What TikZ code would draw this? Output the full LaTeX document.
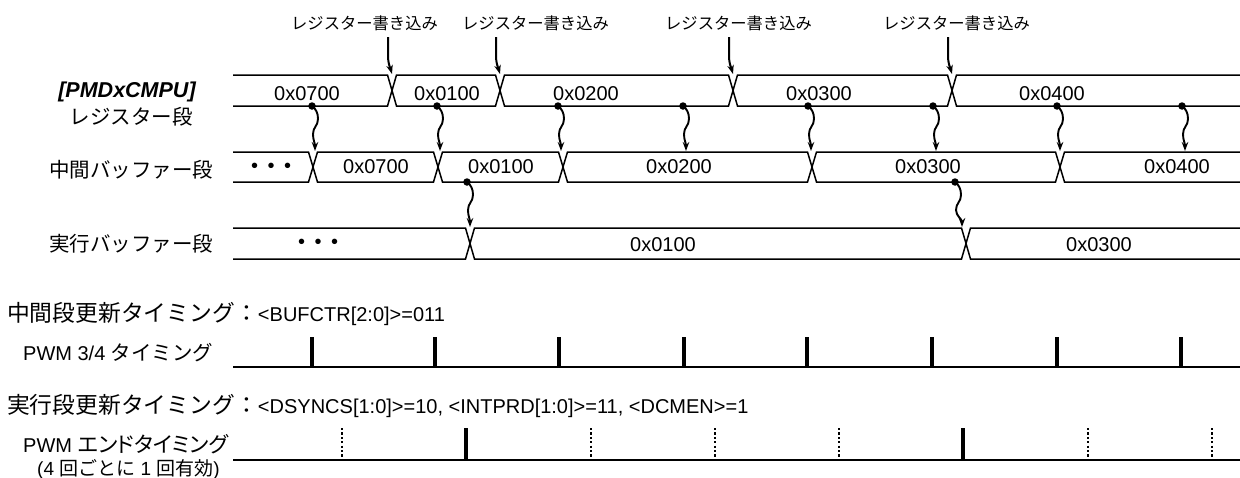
\documentclass[tikz,border=0pt]{standalone}
\usepackage{fontspec}
\setmainfont{Liberation Sans}
\newfontfamily\jp{Noto Sans CJK JP}
\newfontfamily\jpp[RawFeature=+palt]{Noto Sans CJK JP}
\usetikzlibrary{arrows.meta}
\newcommand{\fs}[1]{\fontsize{#1}{#1}\selectfont}
\begin{document}
\begin{tikzpicture}[x=1pt,y=-1pt,
  rowline/.style={line width=1.5pt, line join=miter},
  val/.style={inner sep=0pt, anchor=base, font=\fs{20}},
  jlab/.style={inner sep=0pt, font=\jp\fs{20.5}},
  toplbl/.style={inner sep=0pt, font=\jp\fs{16.3}},
  txt/.style={inner sep=0pt, anchor=west},
  dotn/.style={circle, fill=black, inner sep=0pt, minimum size=7.5pt},
  warr/.style={line width=1.9pt, -{Stealth[length=9pt,width=6.5pt]}},
  wrarr/.style={line width=2pt, -{Stealth[length=9pt,width=6.5pt]}},
  tline/.style={line width=2pt},
  solidtick/.style={line width=4pt},
  dottick/.style={line width=2.2pt, dash pattern=on 2.2pt off 2.2pt},
]
\useasboundingbox (0,0) rectangle (1240,477);

% ---- row labels
\node[inner sep=0pt, anchor=base, font=\bfseries\itshape\fs{21.5}] (regname) at (127,97) {[PMDxCMPU]};
\node[jlab] (reglab) at (131,116.5) {レジスター段};
\node[jlab] (midlab) at (131,170) {中間バッファー段};
\node[jlab] (exelab) at (131,243.5) {実行バッファー段};

% ---- register row
\draw[rowline] (233,75) -- (387.5,75) -- (396.5,106) -- (495.5,106) -- (504.5,75) -- (728.5,75) -- (737.5,106) -- (947.5,106) -- (956.5,75) -- (1240,75);
\draw[rowline] (233,106) -- (387.5,106) -- (396.5,75) -- (495.5,75) -- (504.5,106) -- (728.5,106) -- (737.5,75) -- (947.5,75) -- (956.5,106) -- (1240,106);
\node[val] (rv1) at (307,100) {0x0700};
\node[val] (rv2) at (447,100) {0x0100};
\node[val] (rv3) at (586,100) {0x0200};
\node[val] (rv4) at (819,100) {0x0300};
\node[val] (rv5) at (1052,100) {0x0400};

% ---- middle buffer row
\draw[rowline] (233,152) -- (308.5,152) -- (317.5,182) -- (433.5,182) -- (442.5,152) -- (558.5,152) -- (567.5,182) -- (807.5,182) -- (816.5,152) -- (1055.5,152) -- (1064.5,182) -- (1240,182);
\draw[rowline] (233,182) -- (308.5,182) -- (317.5,152) -- (433.5,152) -- (442.5,182) -- (558.5,182) -- (567.5,152) -- (807.5,152) -- (816.5,182) -- (1055.5,182) -- (1064.5,152) -- (1240,152);
\node[inner sep=0pt, font=\fs{20}] (mv0) at (271,167.5) {•\hspace{9.5pt}•\hspace{9.5pt}•};
\node[val] (mv1) at (376,173.5) {0x0700};
\node[val] (mv2) at (501,173.5) {0x0100};
\node[val] (mv3) at (679,173.5) {0x0200};
\node[val] (mv4) at (928,173.5) {0x0300};
\node[val] (mv5) at (1177,173.5) {0x0400};

% ---- execution buffer row
\draw[rowline] (233,228) -- (465.5,228) -- (474.5,259) -- (961.5,259) -- (970.5,228) -- (1240,228);
\draw[rowline] (233,259) -- (465.5,259) -- (474.5,228) -- (961.5,228) -- (970.5,259) -- (1240,259);
\node[inner sep=0pt, font=\fs{20}] (ev0) at (318,244) {•\hspace{9.5pt}•\hspace{9.5pt}•};
\node[val] (ev1) at (663,251.7) {0x0100};
\node[val] (ev2) at (1099,251.7) {0x0300};

% ---- register write labels and arrows
\node[toplbl] (w1) at (364.5,23.5) {レジスター書き込み};
\node[toplbl] (w2) at (535.5,23.5) {レジスター書き込み};
\node[toplbl] (w3) at (738.5,23.5) {レジスター書き込み};
\node[toplbl] (w4) at (956.5,23.5) {レジスター書き込み};
\coordinate (ws1) at (388,37);  \coordinate (we1) at (392,74);
\coordinate (ws2) at (496,37);  \coordinate (we2) at (500,74);
\coordinate (ws3) at (729,37);  \coordinate (we3) at (733,74);
\coordinate (ws4) at (948,37);  \coordinate (we4) at (952,74);
\foreach \i in {1,2,3,4}{
  \draw[wrarr] (ws\i) -- ++(0,18) .. controls +(0,9) and +(-2,-7) .. (we\i);
}

% ---- register -> middle transfer
\foreach \i/\x in {1/312,2/437,3/558,4/683,5/808,6/933,7/1057,8/1182}{
  \node[dotn] (r\i) at (\x,106) {};
  \coordinate (m\i) at (\x+3,151);
  \draw[warr] (r\i.center) .. controls +(4,3) and +(0,-6) .. ++(6,13) .. controls +(0,7) and +(0,-7) .. ++(-5,15) .. controls +(0,6) and +(0,-8) .. (m\i);
}

% ---- middle -> execution transfer
\node[dotn] (e1) at (467,182) {};
\node[dotn] (e2) at (955,182) {};
\coordinate (x1) at (470,227);
\coordinate (x2) at (962,227);
\foreach \i in {1,2}{
  \draw[warr] (e\i.center) .. controls +(4,3) and +(0,-6) .. ++(6,13) .. controls +(0,7) and +(0,-7) .. ++(-5,15) .. controls +(0,6) and +(0,-8) .. (x\i);
}

% ---- timing headings
\node[txt] (h1) at (7,314) {{\jp\fs{22.8}中間段更新タイミング：}{\fs{20}<BUFCTR[2:0]>=011}};
\node[txt, font=\fs{20}] (p34) at (23,352.5) {PWM 3/4 {\jp\fs{20.5}タイミング}};
\node[txt] (h2) at (7,405.5) {{\jp\fs{22.8}実行段更新タイミング：}{\fs{20}<DSYNCS[1:0]>=10, <INTPRD[1:0]>=11, <DCMEN>=1}};
\node[txt, font=\fs{20}] (pend) at (23,444) {PWM {\jpp\fs{21.5}エンドタイミング}};
\node[txt, font=\fs{19}] (pnote) at (37,469) {(4 {\jp 回ごとに} 1 {\jp 回有効})};

% ---- PWM 3/4 timing line
\draw[tline] (233,367) -- (1240,367);
\foreach \x in {312,435,559,684,807,932,1057,1181}{
  \draw[solidtick] (\x,337) -- (\x,367);
}

% ---- PWM end timing line
\draw[tline] (233,460) -- (1240,460);
\foreach \x in {466,963}{
  \draw[solidtick] (\x,428) -- (\x,460);
}
\foreach \x in {342,591,715,839,1088,1212}{
  \draw[dottick] (\x,428) -- (\x,459);
}
\end{tikzpicture}
\end{document}
